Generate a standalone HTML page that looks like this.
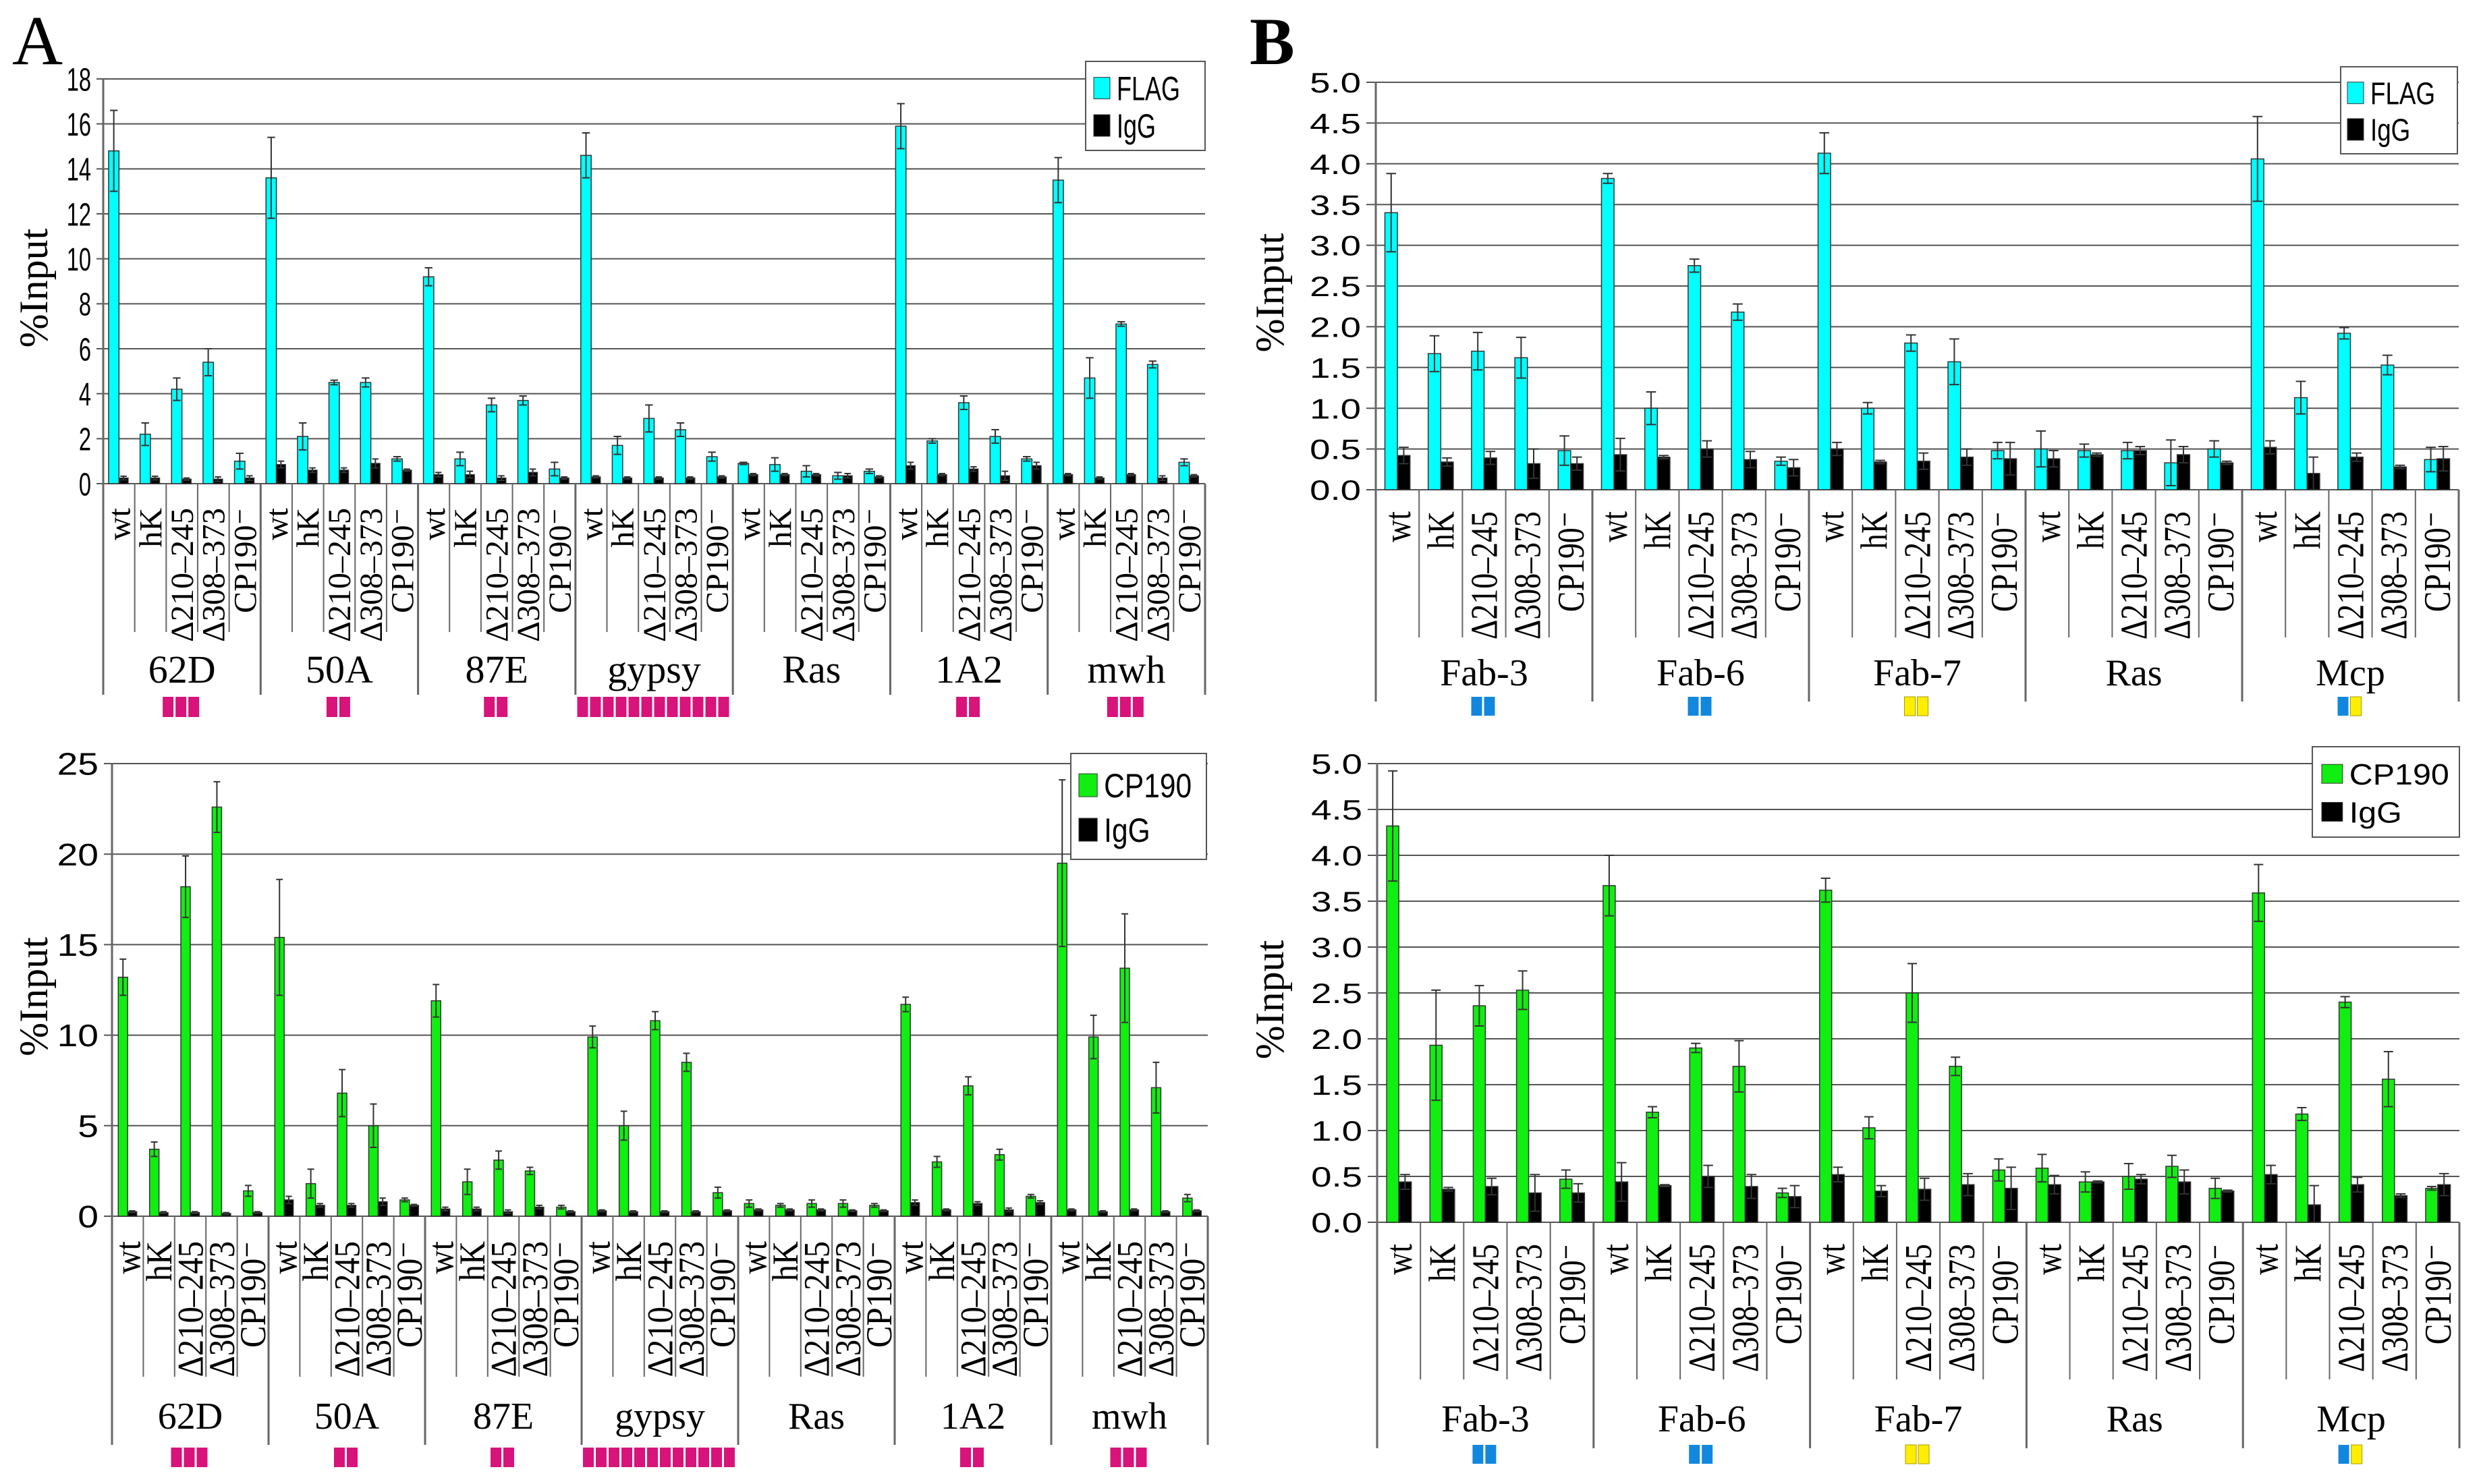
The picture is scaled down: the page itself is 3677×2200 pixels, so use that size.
<!DOCTYPE html>
<html><head><meta charset="utf-8"><style>
html,body{margin:0;padding:0;background:#fff}
svg{display:block}
text{font-family:"Liberation Sans",sans-serif}
.serif{font-family:"Liberation Serif",serif}
</style></head><body>
<svg id="fig" xmlns="http://www.w3.org/2000/svg" width="3677" height="2200" viewBox="0 0 3677 2200">
<text class="serif" x="18" y="95" font-size="104">A</text>
<text class="serif" x="1852" y="95" font-size="100" font-weight="bold">B</text>
</svg>
<script>
const subLabels = ["wt","hK","Δ210–245","Δ308–373","CP190⁻"];
const groupsA = ["62D","50A","87E","gypsy","Ras","1A2","mwh"];
const groupsB = ["Fab-3","Fab-6","Fab-7","Ras","Mcp"];
const squaresA = [3,2,2,12,0,2,3];
const squaresB = [["b","b"],["b","b"],["y","y"],[],["b","y"]];
const ticksA1 = ["0","2","4","6","8","10","12","14","16","18"];
const ticksA2 = ["0","5","10","15","20","25"];
const ticksB = ["0.0","0.5","1.0","1.5","2.0","2.5","3.0","3.5","4.0","4.5","5.0"];

const flagA = [14.8,2.2,4.2,5.4,1.0, 13.6,2.1,4.5,4.5,1.1, 9.2,1.1,3.5,3.7,0.65, 14.6,1.7,2.9,2.4,1.2, 0.9,0.85,0.55,0.35,0.55, 15.9,1.9,3.6,2.1,1.1, 13.5,4.7,7.1,5.3,0.95];
const flagAerr = [1.8,0.5,0.5,0.6,0.35, 1.8,0.6,0.1,0.2,0.1, 0.4,0.3,0.3,0.2,0.3, 1.0,0.4,0.6,0.3,0.2, 0.05,0.3,0.25,0.15,0.1, 1.0,0.1,0.3,0.3,0.1, 1.0,0.9,0.1,0.15,0.15];
const iggA1 = [0.25,0.25,0.2,0.2,0.25, 0.85,0.6,0.6,0.9,0.6, 0.4,0.4,0.25,0.5,0.25, 0.3,0.25,0.25,0.25,0.3, 0.4,0.4,0.4,0.35,0.3, 0.8,0.4,0.65,0.35,0.8, 0.4,0.25,0.4,0.25,0.35];
const iggA1err = [0.08,0.08,0.05,0.1,0.1, 0.15,0.1,0.1,0.2,0.05, 0.1,0.15,0.1,0.15,0.05, 0.05,0.05,0.05,0.05,0.05, 0.05,0.05,0.05,0.1,0.05, 0.15,0.05,0.1,0.2,0.15, 0.05,0.05,0.05,0.1,0.05];
const cpA = [13.2,3.7,18.2,22.6,1.4, 15.4,1.8,6.8,5.0,0.9, 11.9,1.9,3.1,2.5,0.5, 9.9,5.0,10.8,8.5,1.3, 0.7,0.6,0.7,0.7,0.6, 11.7,3.0,7.2,3.4,1.1, 19.5,9.9,13.7,7.1,1.0];
const cpAerr = [1.0,0.4,1.7,1.4,0.3, 3.2,0.8,1.3,1.2,0.1, 0.9,0.7,0.5,0.2,0.1, 0.6,0.8,0.5,0.5,0.3, 0.2,0.1,0.2,0.2,0.1, 0.4,0.3,0.5,0.3,0.1, 4.6,1.2,3.0,1.4,0.2];
const iggA2 = [0.25,0.2,0.2,0.15,0.2, 0.9,0.6,0.6,0.8,0.6, 0.4,0.4,0.25,0.5,0.25, 0.3,0.25,0.25,0.25,0.3, 0.35,0.35,0.35,0.3,0.3, 0.75,0.35,0.7,0.35,0.75, 0.35,0.25,0.35,0.25,0.3];
const iggA2err = [0.05,0.05,0.05,0.05,0.05, 0.2,0.1,0.1,0.2,0.05, 0.1,0.1,0.1,0.1,0.05, 0.05,0.05,0.05,0.05,0.05, 0.05,0.05,0.05,0.05,0.05, 0.15,0.05,0.1,0.1,0.1, 0.05,0.05,0.05,0.05,0.05];
const flagB = [3.4,1.67,1.7,1.62,0.48, 3.82,1.0,2.75,2.18,0.35, 4.13,1.0,1.8,1.57,0.48, 0.5,0.48,0.48,0.33,0.5, 4.06,1.13,1.92,1.53,0.37];
const flagBerr = [0.48,0.22,0.23,0.25,0.18, 0.06,0.2,0.08,0.1,0.05, 0.25,0.07,0.1,0.28,0.1, 0.22,0.08,0.1,0.28,0.1, 0.52,0.2,0.07,0.12,0.15];
const iggB1 = [0.42,0.34,0.39,0.32,0.32, 0.43,0.4,0.5,0.37,0.27, 0.5,0.34,0.35,0.4,0.38, 0.38,0.43,0.48,0.43,0.33, 0.52,0.2,0.4,0.28,0.38];
const iggB1err = [0.1,0.05,0.08,0.18,0.08, 0.2,0.02,0.1,0.1,0.1, 0.08,0.02,0.1,0.1,0.2, 0.1,0.02,0.05,0.1,0.02, 0.08,0.2,0.05,0.02,0.15];
const cpB = [4.32,1.93,2.36,2.53,0.47, 3.67,1.2,1.9,1.7,0.32, 3.62,1.03,2.5,1.7,0.57, 0.59,0.44,0.5,0.61,0.37, 3.59,1.18,2.4,1.56,0.37];
const cpBerr = [0.6,0.6,0.22,0.21,0.1, 0.33,0.06,0.05,0.28,0.05, 0.13,0.12,0.32,0.1,0.12, 0.15,0.11,0.14,0.12,0.11, 0.31,0.07,0.06,0.3,0.02];
const iggB2 = [0.44,0.36,0.39,0.32,0.32, 0.44,0.4,0.5,0.39,0.28, 0.52,0.34,0.36,0.41,0.37, 0.41,0.44,0.47,0.44,0.34, 0.52,0.19,0.41,0.29,0.41];
const iggB2err = [0.08,0.02,0.09,0.2,0.1, 0.21,0.01,0.12,0.13,0.12, 0.08,0.06,0.12,0.12,0.23, 0.1,0.01,0.05,0.13,0.01, 0.1,0.21,0.08,0.02,0.12];

const NS="http://www.w3.org/2000/svg";
const svg=document.getElementById('fig');
function mk(tag,attrs,parent){const e=document.createElementNS(NS,tag);for(const k in attrs)e.setAttribute(k,attrs[k]);(parent||svg).appendChild(e);return e;}

function panel(p){
  const g=mk('g',{});
  
  
  const nG=p.groups.length, nS=nG*5, sw=(p.x1-p.x0)/nS;
  const y=v=>p.yZero-(v/p.max)*(p.yZero-p.yTop);
  p.ticks.forEach((t,i)=>{
    const v=parseFloat(t), yy=y(v);
    const ln=mk('line',{x1:p.x0-p.tickLen,x2:p.x1,y1:yy,y2:yy,stroke:'#555','stroke-width':2},g);
    
    
    const ax0=p.x0-p.tickLen-8;
    const tx=mk('text',{x:ax0,y:yy+p.tickFs*0.36,'text-anchor':'end','font-size':p.tickFs,transform:`translate(${ax0} 0) scale(${p.tickSx} 1) translate(${-ax0} 0)`},g);
    tx.textContent=t;
    
    
  });
  const ax=mk('line',{x1:p.x0,x2:p.x0,y1:p.yTop,y2:p.grpBottom,stroke:'#666','stroke-width':3},g);
  
  
  const cy=(p.yTop+p.yZero)/2+10;
  const yt=mk('text',{x:0,y:0,'class':'serif','font-size':p.titleFs,'text-anchor':'middle',transform:`translate(${p.titleX} ${cy}) rotate(-90)`},g);
  yt.textContent='%Input';
  
  
  for(let i=0;i<=nS;i++){
    const xx=p.x0+i*sw;
    const isG=i%5===0;
    const ln=mk('line',{x1:xx,x2:xx,y1:p.yZero,y2:isG?p.grpBottom:p.subBottom,stroke:'#666','stroke-width':isG?3:2},g);
    
    
  }
  function bar(vals,errs,i,f0,f1,color,nm){
    const v=vals[i], e=errs[i];
    const bx=p.x0+i*sw+f0*sw, bw=(f1-f0)*sw;
    const r=mk('rect',{x:bx,y:y(v),width:bw,height:p.yZero-y(v),fill:color,stroke:'#333','stroke-width':1.5},g);
    
    
    const cx=bx+bw/2;
    const el=mk('path',{d:`M${cx},${y(Math.max(0,v-e))}V${y(v+e)}M${bx+2},${y(v+e)}H${bx+bw-2}M${bx+2},${y(Math.max(0,v-e))}H${bx+bw-2}`,stroke:'#333','stroke-width':2,fill:'none'},g);
    
    
  }
  for(let i=0;i<nS;i++){
    bar(p.main,p.mainErr,i,p.f0,0.5,p.color,'bar-'+p.series);
    bar(p.igg,p.iggErr,i,0.5,0.79,'#000','bar-igg');
    const lx=p.x0+(i+0.5)*sw+p.labFs*0.34, ly=p.yZero+p.labTop;
    const t=mk('text',{x:0,y:0,'class':'serif','font-size':p.labFs,'text-anchor':'end',transform:`translate(${lx} ${ly}) rotate(-90) scale(${p.labSx} 1)`},g);
    t.textContent=subLabels[i%5];
    
    
  }
  p.groups.forEach((name,gi)=>{
    const gx=p.x0+gi*5*sw+2.5*sw;
    const t=mk('text',{x:0,y:0,'class':'serif','font-size':p.grpFs,'text-anchor':'middle',transform:`translate(${gx} ${p.grpLabelY}) scale(${p.grpSx} 1)`},g);
    t.textContent=name;
    
    
    const sq=p.squares[gi];
    const list=Array.isArray(sq)?sq:Array(sq).fill('m');
    const w=p.sqW, tot=list.length*w;
    list.forEach((c,k)=>{
      const col=c==='m'?'#d8137a':(c==='b'?'#1188dd':'#ffee00');
      const r=mk('rect',{x:gx-tot/2+k*w,y:p.sqY,width:w-3,height:p.sqH,fill:col,stroke:c==='y'?'#aa9900':'none','stroke-width':1},g);
      
      
    });
  });
  const L=p.legend;
  const lb=mk('rect',{x:L.x,y:L.y,width:L.w,height:L.h,fill:'#fff',stroke:'#555','stroke-width':2},g);
  
  
  [[p.color,p.seriesLabel],['#000','IgG']].forEach((e,k)=>{
    const ey=L.y+L.h*(k===0?0.3:0.72);
    const s=mk('rect',{x:L.x+L.pad,y:ey-L.sq/2,width:L.sq*L.sqr,height:L.sq,fill:e[0],stroke:'#333','stroke-width':1},g);
    
    
    const tx0=L.x+L.pad+L.sq*L.sqr+10;
    const t=mk('text',{x:tx0,y:ey+L.fs*0.36,'font-size':L.fs,transform:`translate(${tx0} 0) scale(${L.sx} 1) translate(${-tx0} 0)`},g);
    t.textContent=e[1];
    
    
  });
}

panel({name:'chart-a-flag',groups:groupsA,squares:squaresA,x0:153,x1:1786,yTop:117,yZero:717,max:18,ticks:ticksA1,tickLen:10,tickFs:48,tickSx:0.68,
  titleX:70,titleFs:60,subBottom:937,grpBottom:1030,labTop:36,labFs:48,labSx:1.0,grpLabelY:1012,grpFs:58,grpSx:1.0,sqY:1033,sqH:30,sqW:19,
  main:flagA,mainErr:flagAerr,igg:iggA1,iggErr:iggA1err,color:'#00ffff',series:'flag',seriesLabel:'FLAG',f0:0.17,
  legend:{x:1609,y:91,w:177,h:132,pad:12,sq:32,sqr:0.75,fs:50,sx:0.72}});
panel({name:'chart-a-cp190',groups:groupsA,squares:squaresA,x0:166,x1:1790,yTop:1132,yZero:1803,max:25,ticks:ticksA2,tickLen:12,tickFs:46,tickSx:1.2,
  titleX:70,titleFs:60,subBottom:2041,grpBottom:2142,labTop:37,labFs:54,labSx:0.9,grpLabelY:2118,grpFs:56,grpSx:1.0,sqY:2146,sqH:29,sqW:19,
  main:cpA,mainErr:cpAerr,igg:iggA2,iggErr:iggA2err,color:'#11ee11',series:'cp190',seriesLabel:'CP190',f0:0.2,
  legend:{x:1587,y:1117,w:201,h:157,pad:12,sq:34,sqr:0.8,fs:50,sx:0.85}});
panel({name:'chart-b-flag',groups:groupsB,squares:squaresB,x0:2039,x1:3644,yTop:122,yZero:726,max:5,ticks:ticksB,tickLen:14,tickFs:42,tickSx:1.3,
  titleX:1902,titleFs:60,subBottom:945,grpBottom:1040,labTop:32,labFs:56,labSx:0.82,grpLabelY:1016,grpFs:56,grpSx:1.0,sqY:1033,sqH:28,sqW:19,
  main:flagB,mainErr:flagBerr,igg:iggB1,iggErr:iggB1err,color:'#00ffff',series:'flag',seriesLabel:'FLAG',f0:0.21,
  legend:{x:3469,y:99,w:173,h:129,pad:10,sq:32,sqr:0.75,fs:46,sx:0.8}});
panel({name:'chart-b-cp190',groups:groupsB,squares:squaresB,x0:2041,x1:3645,yTop:1132,yZero:1812,max:5,ticks:ticksB,tickLen:14,tickFs:42,tickSx:1.3,
  titleX:1902,titleFs:60,subBottom:2045,grpBottom:2147,labTop:32,labFs:56,labSx:0.82,grpLabelY:2122,grpFs:56,grpSx:1.0,sqY:2142,sqH:28,sqW:19,
  main:cpB,mainErr:cpBerr,igg:iggB2,iggErr:iggB2err,color:'#11ee11',series:'cp190',seriesLabel:'CP190',f0:0.22,
  legend:{x:3427,y:1107,w:218,h:134,pad:14,sq:28,sqr:1.1,fs:44,sx:1.1}});
</script>
</body></html>
